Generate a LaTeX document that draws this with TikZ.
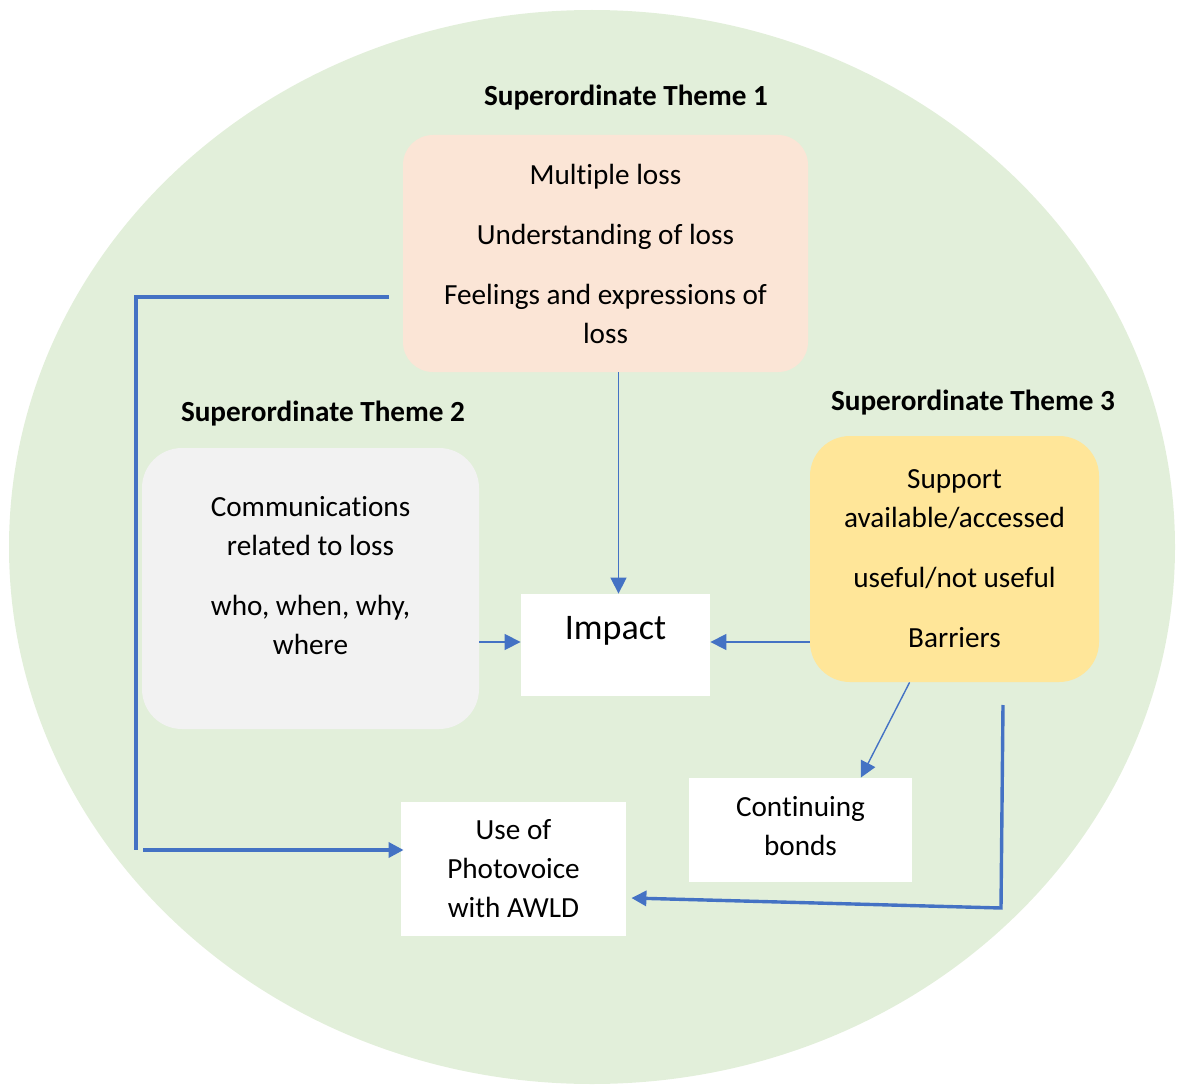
\documentclass[tikz,border=0pt]{standalone}
\usepackage{fontspec}
\setmainfont{Carlito}[Ligatures=CommonOff]
\usetikzlibrary{arrows.meta}

\definecolor{bggreen}{HTML}{E2EFDA}
\definecolor{peach}{HTML}{FBE5D6}
\definecolor{greybox}{HTML}{F2F2F2}
\definecolor{yellowbox}{HTML}{FFE699}
\definecolor{linkblue}{HTML}{4472C4}

\begin{document}
\begin{tikzpicture}[x=0.5pt, y=-0.5pt]
  \tikzstyle{txt}=[font=\fontsize{14.6}{19.5}\selectfont, align=center, inner sep=0pt]
  \tikzstyle{title}=[txt, font=\fontsize{14.6}{19.5}\selectfont\bfseries]
  \tikzstyle{theme}=[txt, rectangle, rounded corners=18pt]
  \tikzstyle{plain}=[txt, rectangle, fill=white]
  \tikzstyle{thin}=[linkblue, line width=0.7pt, -{Triangle[length=8pt,width=8pt]}]
  \tikzstyle{thick}=[linkblue, line width=1.7pt]

  \useasboundingbox (0,0) rectangle (1179,1086);
  \fill[bggreen] (592,547) ellipse [x radius=583, y radius=537];

  % themes
  \node[title] (t1) at (626,98)  {Superordinate Theme 1};
  \node[title] (t2) at (323,414) {Superordinate Theme 2};
  \node[title] (t3) at (973,403) {Superordinate Theme 3};

  \node[theme, fill=peach, rounded corners=15pt, minimum width=202.5pt, minimum height=118.5pt]
    (box1) at (605.5,253.5) {Multiple loss\\[10.5pt]Understanding of loss\\[10.5pt]Feelings and expressions of\\loss};
  \node[theme, fill=greybox, rounded corners=20pt, minimum width=168.5pt, minimum height=140.5pt,
    text depth=13pt] (box2) at (310.5,588.5) {Communications\\related to loss\\[10.5pt]who, when, why,\\where};
  \node[theme, fill=yellowbox, rounded corners=20pt, minimum width=144.5pt, minimum height=123pt]
    (box3) at (954.5,559) {Support\\available/accessed\\[10.5pt]useful/not useful\\[10.5pt]Barriers};

  % white boxes
  \node[plain, font=\fontsize{18}{22}\selectfont, minimum width=94.5pt, minimum height=51pt,
    text height=12pt, text depth=18pt] (impact) at (615.5,645) {Impact};
  \node[plain, minimum width=111.5pt, minimum height=52pt, text depth=4pt] (bonds) at (800.5,830) {Continuing\\bonds};
  \node[plain, minimum width=112.5pt, minimum height=67pt] (photo) at (513.5,869) {Use of\\Photovoice\\with AWLD};

  % links into impact
  \draw[thin] ([xshift=1.5pt]box1.south -| impact.north) -- ([xshift=1.5pt]impact.north);
  \draw[thin] ([yshift=1.5pt]box2.east |- impact.west) -- ([yshift=1.5pt]impact.west);
  \draw[thin] ([yshift=1.5pt]box3.west |- impact.east) -- ([yshift=1.5pt]impact.east);
  \draw[thin] (box3.250) -- (bonds.41);

  % long links to photovoice
  \coordinate (lstart)  at (389,297);
  \coordinate (lcorner) at (136,297);
  \coordinate (lbottom) at (136,850);
  \coordinate (lfoot)   at (143,850);
  \coordinate (rtop)    at (1003,705);
  \coordinate (rfoot)   at (1001,908);

  \draw[thick] (lstart) -- (lcorner) -- (lbottom);
  \draw[thick, -{Triangle[length=7.5pt,width=7.5pt]}] (lfoot) -- ([xshift=1.5pt]lfoot -| photo.west);
  \draw[thick, -{Triangle[length=7.5pt,width=7.5pt]}] (rtop) -- (rfoot) -- ([shift={(2.5pt,-14.5pt)}]photo.east);
\end{tikzpicture}
\end{document}
